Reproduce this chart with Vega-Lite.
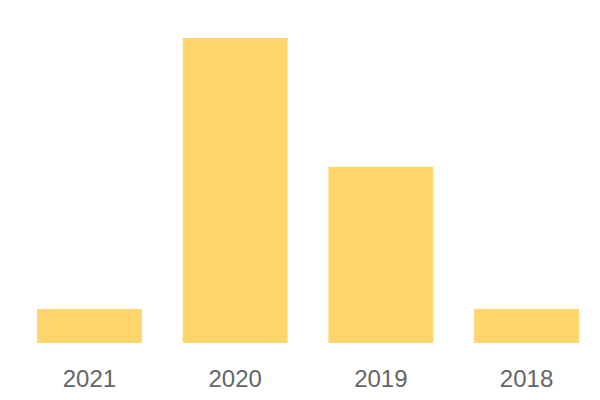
{
  "$schema": "https://vega.github.io/schema/vega-lite/v6.json",
  "autosize": "none",
  "width": 542,
  "height": 305,
  "padding": {"left": 37, "top": 38, "right": 21, "bottom": 57},
  "background": "white",
  "config": {"view": {"stroke": null}},
  "data": {"values": [
    {"year": "2021", "value": 1},
    {"year": "2020", "value": 9},
    {"year": "2019", "value": 5.2},
    {"year": "2018", "value": 1}
  ]},
  "mark": {"type": "bar", "color": "#FFD66B"},
  "encoding": {
    "x": {"field": "year", "type": "nominal", "sort": null,
      "scale": {"paddingInner": 0.28, "paddingOuter": 0},
      "axis": {"title": null, "domain": false, "ticks": false, "labelAngle": 0,
        "labelFont": "Liberation Sans", "labelFontSize": 24, "labelColor": "#666666", "labelPadding": 24}},
    "y": {"field": "value", "type": "quantitative", "scale": {"domain": [0, 9], "nice": false},
      "axis": null}
  }
}
